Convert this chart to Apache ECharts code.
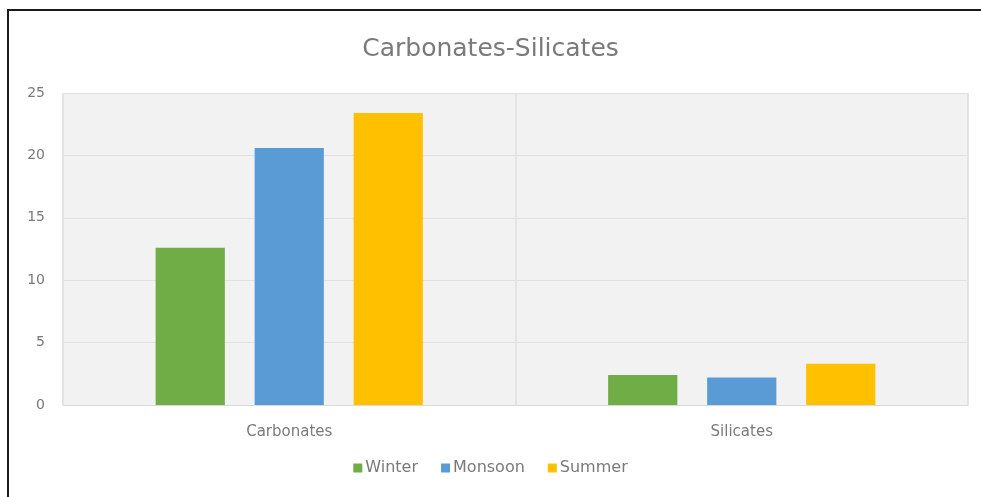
<!DOCTYPE html>
<html>
<head>
<meta charset="utf-8">
<script src="https://cdn.jsdelivr.net/npm/echarts@6/dist/echarts.min.js"></script>
<style>
  html, body { margin: 0; padding: 0; background: #ffffff; }
  #chart { width: 981px; height: 497px; }
</style>
</head>
<body>
<div id="chart"></div>
<script>
// Categories and seasonal values
const categories = ['Carbonates', 'Silicates'];
const seriesNames = ['Winter', 'Monsoon', 'Summer'];
const winterValues = [12.6, 2.4];
const monsoonValues = [20.6, 2.2];
const summerValues = [23.4, 3.3];
const yTicks = { min: 0, max: 25, interval: 5 };

const colors = ['#70ad47', '#5b9bd5', '#ffc000'];
const fontFamily = '"DejaVu Sans", "Open Sans", sans-serif';

const chart = echarts.init(document.getElementById('chart'), null, { renderer: 'canvas' });

const valuesBySeries = [winterValues, monsoonValues, summerValues];

chart.setOption({
  animation: false,
  backgroundColor: '#ffffff',
  color: colors,
  title: {
    text: 'Carbonates-Silicates',
    left: 'center',
    top: 32,
    textStyle: { fontFamily, fontSize: 25, fontWeight: 'normal', color: '#7a7a7a' }
  },
  graphic: [
    { type: 'line', shape: { x1: 7, y1: 10, x2: 981, y2: 10 }, style: { stroke: '#1a1a1a', lineWidth: 2 } },
    { type: 'line', shape: { x1: 8, y1: 10, x2: 8, y2: 497 }, style: { stroke: '#1a1a1a', lineWidth: 2 } }
  ],
  legend: {
    bottom: 16,
    left: 'center',
    itemWidth: 9,
    itemHeight: 9,
    itemGap: 23,
    icon: 'rect',
    textStyle: { fontFamily, fontSize: 16, color: '#7a7a7a', padding: [0, 0, 0, -2] },
    data: seriesNames
  },
  grid: {
    left: 63, right: 13, top: 93, bottom: 92,
    show: true, backgroundColor: '#f2f2f2', borderWidth: 0
  },
  xAxis: {
    type: 'category',
    data: categories,
    axisLine: { show: true, lineStyle: { color: '#d9d9d9' } },
    axisTick: { show: false },
    splitLine: { show: true, lineStyle: { color: '#e3e3e3', width: 2 } },
    axisLabel: { fontFamily, fontSize: 15, color: '#7a7a7a', margin: 20 }
  },
  yAxis: {
    type: 'value',
    min: yTicks.min, max: yTicks.max, interval: yTicks.interval,
    axisLine: { show: false },
    axisTick: { show: false },
    splitLine: { lineStyle: { color: '#e0e0e0', width: 1 } },
    axisLabel: { fontFamily, fontSize: 14, color: '#7a7a7a', margin: 18 }
  },
  series: seriesNames.map((name, i) => ({
    name,
    type: 'bar',
    data: valuesBySeries[i],
    barWidth: '15.3%',
    barGap: '43%',
    itemStyle: { color: colors[i] }
  }))
});
</script>
</body>
</html>
